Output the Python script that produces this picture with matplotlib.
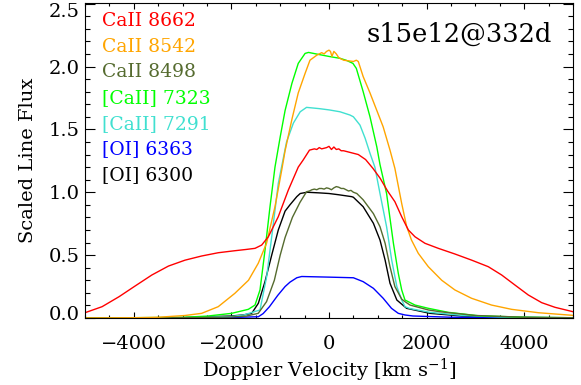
import matplotlib
matplotlib.use('Agg')
import matplotlib.pyplot as plt
import matplotlib.transforms as mtransforms
from matplotlib.ticker import MultipleLocator, FormatStrFormatter

plt.rcParams['font.family'] = 'DejaVu Serif'
plt.rcParams['mathtext.fontset'] = 'dejavuserif'

# line profiles, velocity in km/s, flux scaled
v_8662 = [-5000, -4650, -4300, -3975, -3630, -3290, -2950, -2610, -2270, -1930, -1700, -1516,
          -1380, -1243, -1040, -834, -630, -530, -400, -300, -250, -200, -150, -100, -50, 0,
          50, 100, 150, 200, 250, 300, 400, 500, 600, 750, 900, 1050, 1200, 1350, 1490, 1626,
          1762, 1967, 2240, 2580, 2924, 3264, 3538, 3811, 4084, 4358, 4631, 5000]
f_8662 = [0.042, 0.09, 0.17, 0.254, 0.342, 0.413, 0.46, 0.493, 0.519, 0.535, 0.545, 0.554,
          0.58, 0.646, 0.805, 1.017, 1.20, 1.256, 1.335, 1.345, 1.34, 1.355, 1.345, 1.35, 1.355,
          1.365, 1.34, 1.36, 1.34, 1.345, 1.33, 1.33, 1.32, 1.31, 1.30, 1.26, 1.19, 1.11, 1.01,
          0.925, 0.805, 0.70, 0.646, 0.594, 0.554, 0.509, 0.46, 0.408, 0.342, 0.262, 0.183,
          0.122, 0.085, 0.05]

v_8542 = [-5000, -4000, -3500, -2950, -2610, -2270, -1930, -1650, -1450, -1280, -1107, -969,
          -900, -760, -630, -490, -390, -250, -200, -150, -100, -50, 0, 30, 60, 100, 150, 200,
          250, 300, 400, 500, 560, 600, 700, 840, 980, 1110, 1250, 1350, 1420, 1490, 1590, 1690,
          1830, 2035, 2310, 2580, 2920, 3330, 3740, 4290, 5000]
f_8542 = [0.0, 0.002, 0.006, 0.02, 0.037, 0.09, 0.196, 0.30, 0.435, 0.594, 0.885, 1.176,
          1.33, 1.58, 1.79, 1.945, 2.05, 2.09, 2.10, 2.11, 2.10, 2.12, 2.13, 2.12, 2.08, 2.12,
          2.10, 2.07, 2.06, 2.05, 2.045, 2.04, 2.05, 2.04, 1.92, 1.79, 1.65, 1.52, 1.335, 1.19,
          1.05, 0.91, 0.73, 0.62, 0.514, 0.408, 0.30, 0.223, 0.157, 0.103, 0.069, 0.042, 0.021]

v_8498 = [-5000, -3000, -2000, -1700, -1450, -1280, -1120, -1000, -900, -750, -594, -460, -400,
          -350, -300, -250, -200, -150, -100, -50, 0, 50, 100, 150, 200, 250, 300, 350, 400,
          450, 500, 570, 700, 910, 1045, 1150, 1250, 1350, 1490, 1557, 1660, 2035, 2270, 3000,
          4000, 5000]
f_8498 = [0.0, 0.002, 0.008, 0.015, 0.037, 0.13, 0.30, 0.50, 0.64, 0.80, 0.92, 1.004, 1.01,
          1.02, 1.025, 1.02, 1.03, 1.03, 1.025, 1.035, 1.03, 1.02, 1.035, 1.045, 1.04, 1.03,
          1.03, 1.02, 1.01, 1.015, 1.0, 0.99, 0.94, 0.83, 0.726, 0.594, 0.408, 0.25, 0.15,
          0.13, 0.103, 0.064, 0.05, 0.02, 0.006, 0.002]

v_7323 = [-5000, -3000, -2500, -1994, -1653, -1516, -1414, -1311, -1209, -1107, -1000, -900,
          -760, -630, -490, -420, -200, 0, 225, 350, 490, 560, 700, 840, 980, 1045, 1180, 1320,
          1420, 1490, 1557, 1762, 2035, 2445, 3060, 4000, 5000]
f_7323 = [0.0, 0.005, 0.015, 0.037, 0.069, 0.103, 0.223, 0.54, 0.885, 1.20, 1.44, 1.65,
          1.866, 2.025, 2.104, 2.112, 2.095, 2.08, 2.065, 2.05, 2.025, 1.985, 1.80, 1.60, 1.36,
          1.22, 0.99, 0.594, 0.355, 0.223, 0.143, 0.103, 0.077, 0.045, 0.018, 0.006, 0.002]

v_7291 = [-5000, -3000, -2000, -1750, -1414, -1277, -1174, -1039, -870, -730, -590, -460, -200,
          0, 225, 430, 500, 635, 740, 840, 940, 1045, 1180, 1285, 1390, 1490, 1557, 1660, 2070,
          2750, 3500, 5000]
f_7291 = [0.0, 0.003, 0.012, 0.024, 0.064, 0.33, 0.646, 1.07, 1.40, 1.55, 1.64, 1.675, 1.665,
          1.655, 1.64, 1.614, 1.60, 1.534, 1.43, 1.31, 1.20, 0.99, 0.726, 0.46, 0.25, 0.143,
          0.09, 0.075, 0.045, 0.02, 0.008, 0.002]

v_6363 = [-5000, -2000, -1448, -1350, -1220, -1050, -900, -800, -660, -560, 0, 500, 700, 910,
          1110, 1280, 1420, 1557, 1720, 2500, 5000]
f_6363 = [0.0, 0.004, 0.01, 0.035, 0.09, 0.18, 0.25, 0.285, 0.32, 0.33, 0.325, 0.32, 0.289,
          0.236, 0.157, 0.077, 0.037, 0.024, 0.016, 0.006, 0.001]

v_6300 = [-5000, -3000, -2000, -1750, -1584, -1448, -1311, -1174, -1039, -900, -800, -660,
          -590, -450, -200, 0, 200, 465, 500, 700, 910, 1045, 1150, 1250, 1390, 1590, 2070,
          2750, 3500, 5000]
f_6300 = [0.0, 0.003, 0.016, 0.025, 0.037, 0.117, 0.29, 0.50, 0.70, 0.85, 0.90, 0.965, 0.99,
          1.0, 0.995, 0.99, 0.98, 0.965, 0.96, 0.885, 0.753, 0.62, 0.46, 0.276, 0.143, 0.077,
          0.037, 0.015, 0.005, 0.001]

lines = [
    ('CaII 8662', v_8662, f_8662, '#ff0000'),
    ('CaII 8542', v_8542, f_8542, '#ffa500'),
    ('CaII 8498', v_8498, f_8498, '#556b2f'),
    ('[CaII] 7323', v_7323, f_7323, '#00ff00'),
    ('[CaII] 7291', v_7291, f_7291, '#40e0d0'),
    ('[OI] 6363', v_6363, f_6363, '#0000ff'),
    ('[OI] 6300', v_6300, f_6300, '#000000'),
]

y_ticks = [0.0, 0.5, 1.0, 1.5, 2.0, 2.5]

W, H = 581, 385
fig = plt.figure(figsize=(W / 100, H / 100), dpi=100)
ax = fig.add_axes([85 / W, (H - 318) / H, 488 / W, 315 / H])

for name, v, f, c in reversed(lines):
    ax.plot(v, f, color=c, lw=1.0)

ax.set_xlim(-5000, 5000)
ax.set_ylim(0, 2.505)
ax.xaxis.set_major_locator(MultipleLocator(2000))
ax.xaxis.set_minor_locator(MultipleLocator(500))
ax.set_yticks(y_ticks)
ax.yaxis.set_minor_locator(MultipleLocator(0.1))
ax.yaxis.set_major_formatter(FormatStrFormatter('%.1f'))

ax.tick_params(axis='both', which='both', direction='in', top=True, right=True,
               labelsize=14, width=0.8)
ax.tick_params(axis='x', which='major', length=4.5, pad=12)
ax.tick_params(axis='x', which='minor', length=2.3)
ax.tick_params(axis='y', which='major', length=7.2, pad=4)
ax.tick_params(axis='y', which='minor', length=3.6)
for s in ax.spines.values():
    s.set_linewidth(0.8)

# nudge the end labels of the y axis inside the frame (pixels)
yticks = ax.yaxis.get_major_ticks(len(y_ticks))
for tick, dy in ((yticks[0], 5), (yticks[-1], -6.5)):
    off = mtransforms.ScaledTranslation(0, dy / 100, fig.dpi_scale_trans)
    tick.label1.set_transform(tick.label1.get_transform() + off)

ax.set_xlabel('Doppler Velocity [km s$^{-1}$]', fontsize=14, labelpad=3)
ax.set_ylabel('Scaled Line Flux', fontsize=14, labelpad=8)

# legend as coloured text
for i, (name, v, f, c) in enumerate(lines):
    fig.text(101.7 / W, (H - 26 - i * 25.7) / H, name, color=c, fontsize=13.5,
             va='baseline', ha='left')

fig.text(552 / W, (H - 41.7) / H, 's15e12@332d', fontsize=18.5, ha='right', va='baseline')

fig.savefig('out.png', dpi=100)
